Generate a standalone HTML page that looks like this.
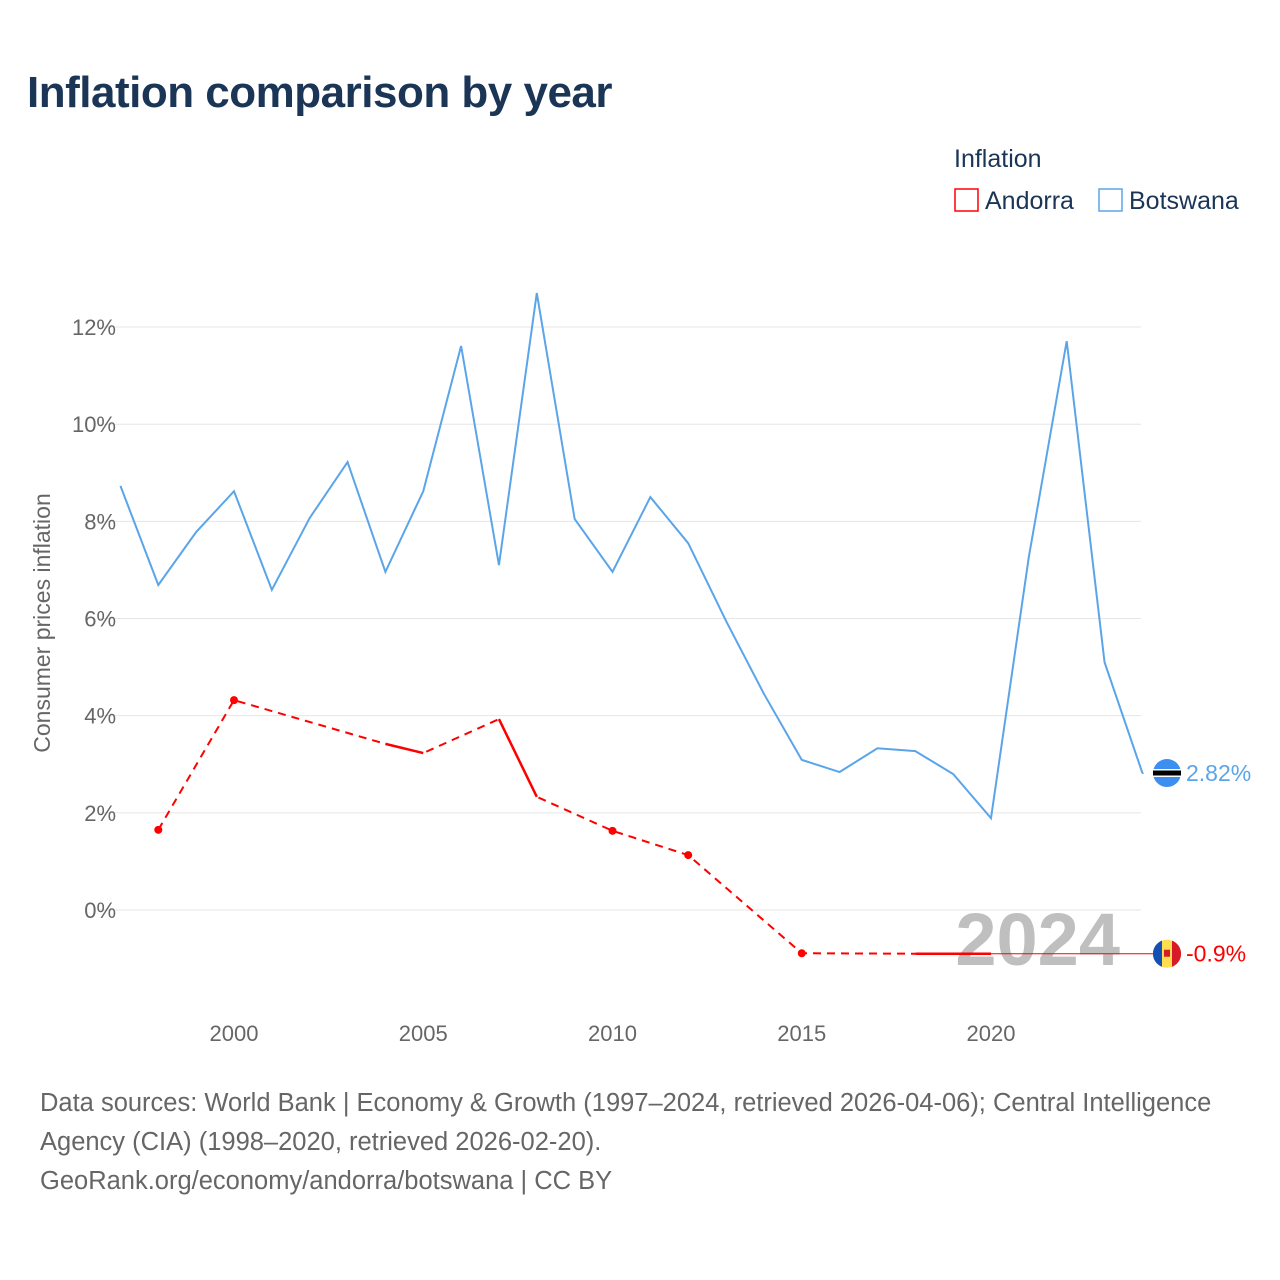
<!DOCTYPE html>
<html><head><meta charset="utf-8">
<style>
body{margin:0;background:#fff;font-family:"Liberation Sans",sans-serif;}
#wrap{position:relative;width:1280px;height:1280px;overflow:hidden}
h1{position:absolute;left:27px;top:68px;margin:0;font-size:44px;color:#1b3556;font-weight:bold;letter-spacing:-0.5px}
.src{position:absolute;left:40px;font-size:25.5px;color:#666}
</style></head><body>
<div id="wrap">
<h1>Inflation comparison by year</h1>
<svg id="chart" width="1280" height="1280" style="position:absolute;left:0;top:0"></svg>
<div class="src" style="top:1089px">Data sources: World Bank | Economy &amp; Growth (1997–2024, retrieved 2026-04-06); Central Intelligence</div>
<div class="src" style="top:1128px">Agency (CIA) (1998–2020, retrieved 2026-02-20).</div>
<div class="src" style="top:1167px">GeoRank.org/economy/andorra/botswana | CC BY</div>
</div>
<script>
const years=[1997,1998,1999,2000,2001,2002,2003,2004,2005,2006,2007,2008,2009,2010,2011,2012,2013,2014,2015,2016,2017,2018,2019,2020,2021,2022,2023,2024];
const botswana=[8.73,6.69,7.78,8.62,6.59,8.07,9.22,6.96,8.62,11.61,7.10,12.70,8.05,6.96,8.50,7.55,5.95,4.45,3.09,2.84,3.33,3.27,2.80,1.89,7.27,11.71,5.10,2.82];
const andorraYears=[1998,2000,2004,2005,2007,2008,2010,2012,2015,2018,2020,2024];
const andorra=[1.65,4.32,3.42,3.23,3.93,2.33,1.63,1.13,-0.89,-0.9,-0.9,-0.9];
const andorraDots=[1998,2000,2010,2012,2015];
const yTicks=[0,2,4,6,8,10,12];
const xTicks=[2000,2005,2010,2015,2020];
const NS="http://www.w3.org/2000/svg";
const svg=document.getElementById('chart');
const X=y=>234+(y-2000)*37.85;
const Y=v=>910-v*48.58;
function mk(t,a,p){const e=document.createElementNS(NS,t);for(const k in a)e.setAttribute(k,a[k]);(p||svg).appendChild(e);return e;}
yTicks.forEach(t=>{
 const l=mk('line',{x1:100,x2:1141,y1:Y(t),y2:Y(t),stroke:'#e6e6e6','stroke-width':1});
 
 
 const tx=mk('text',{x:116,y:Y(t)+8,'text-anchor':'end','font-size':22,fill:'#666','font-family':'Liberation Sans'});
 tx.textContent=t+'%';
 
 
});
xTicks.forEach(t=>{
 const tx=mk('text',{x:X(t),y:1041,'text-anchor':'middle','font-size':22,fill:'#666','font-family':'Liberation Sans'});
 tx.textContent=t;
 
 
});
const yt=mk('text',{x:0,y:0,transform:'translate(50,623) rotate(-90)','text-anchor':'middle','font-size':23,fill:'#666','font-family':'Liberation Sans'});
yt.textContent='Consumer prices inflation';


const yr=mk('text',{x:1120,y:965,'text-anchor':'end','font-size':74,'font-weight':'bold',fill:'#bfbfbf','font-family':'Liberation Sans'});
yr.textContent='2024';


let d=years.map((y,i)=>(i?'L':'M')+X(y)+' '+Y(botswana[i])).join(' ')+' L1142 '+Y(botswana[botswana.length-1]);
const bl=mk('path',{d:d,fill:'none',stroke:'#5aa5ea','stroke-width':2});


const ai=andorraYears.indexOf(2015);
let da=andorraYears.slice(0,ai+2).map((y,i)=>(i?'L':'M')+X(y)+' '+Y(andorra[i])).join(' ');
const al=mk('path',{d:da,fill:'none',stroke:'#ff0000','stroke-width':2,'stroke-dasharray':'8 6'});


const solid=[[2004,2005],[2007,2008],[2018,2020]];
solid.forEach(s=>{
 const a=andorraYears.indexOf(s[0]),b=andorraYears.indexOf(s[1]);
 let p='';for(let i=a;i<=b;i++)p+=(i==a?'M':'L')+X(andorraYears[i])+' '+Y(andorra[i])+' ';
 const e=mk('path',{d:p,fill:'none',stroke:'#ff0000','stroke-width':2.5});
 
 
});
const li=andorraYears.indexOf(2020);
const tl=mk('line',{x1:X(2020),y1:Y(andorra[li]),x2:1155,y2:Y(andorra[andorra.length-1]),stroke:'#ff0000','stroke-width':1});


andorraDots.forEach(y=>{
 const i=andorraYears.indexOf(y);
 const c=mk('circle',{cx:X(y),cy:Y(andorra[i]),r:4,fill:'#ff0000'});
 
 
});
function flag(cy,type){
 const g=mk('g',{});
 if(type==='bw'){
  mk('circle',{cx:1167,cy:cy,r:14,fill:'#3a8ff0'},g);
  mk('rect',{x:1153,y:cy-4,width:28,height:8,fill:'#fff'},g);
  mk('rect',{x:1153,y:cy-2.5,width:28,height:5,fill:'#000'},g);
 }else{
  mk('circle',{cx:1167,cy:cy,r:14,fill:'#fedd4e'},g);
  mk('path',{d:`M1162 ${cy-13.1} A14 14 0 0 0 1162 ${cy+13.1} Z`,fill:'#1450b4'},g);
  mk('path',{d:`M1172 ${cy-13.1} A14 14 0 0 1 1172 ${cy+13.1} Z`,fill:'#d71a28'},g);
  mk('rect',{x:1164,y:cy-4,width:6,height:7,fill:'#d71a28'},g);
 }
 return g;
}
const bv=botswana[botswana.length-1],av=andorra[andorra.length-1];
const fb=flag(Y(bv),'bw');
const fa=flag(Y(av),'ad');
const lb=mk('text',{x:1186,y:Y(bv)+8,'font-size':23,fill:'#5aa5ea','font-family':'Liberation Sans'});
lb.textContent=bv.toFixed(2)+'%';


const la=mk('text',{x:1186,y:Y(av)+8,'font-size':23,fill:'#ff0000','font-family':'Liberation Sans'});
la.textContent=av.toFixed(1)+'%';


const lt=mk('text',{x:954,y:167,'font-size':25,fill:'#1b3556','font-family':'Liberation Sans'});
lt.textContent='Inflation';


[['Andorra','#ff0000',954],['Botswana','#5aa5ea',1098]].forEach(e=>{
 const g=mk('g',{});
 
 
 mk('rect',{x:e[2]+1,y:189,width:23,height:22,fill:'none',stroke:e[1],'stroke-width':1.5},g);
 const t=mk('text',{x:e[2]+31,y:209,'font-size':25,fill:'#1b3556','font-family':'Liberation Sans'},g);
 t.textContent=e[0];
});
</script>
</body></html>
